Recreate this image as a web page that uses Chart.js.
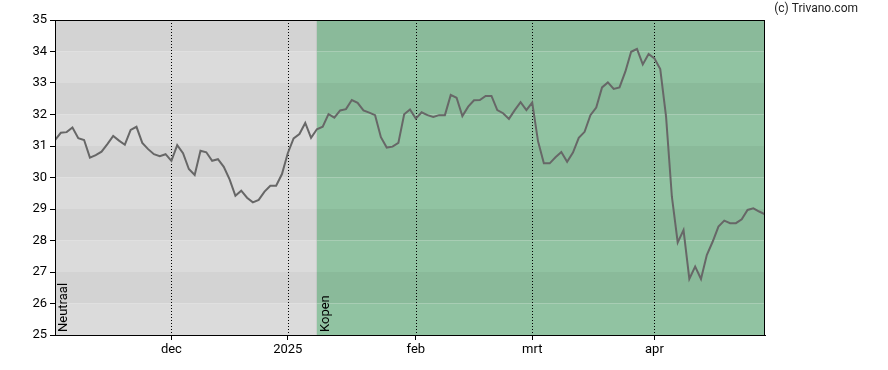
<!DOCTYPE html>
<html>
<head>
<meta charset="utf-8">
<script src="https://cdn.jsdelivr.net/npm/chart.js@4/dist/chart.umd.min.js"></script>
<style>
  html, body { margin: 0; padding: 0; background: #fff; }
  #wrap { width: 888px; height: 370px; }
</style>
</head>
<body>
<div id="wrap"><canvas id="grafiekKoers"></canvas></div>
<script>
// ---- data (one value per trading day, Nov 2024 - Apr 2025)
const koersen = [
  31.19, 31.42, 31.44, 31.59, 31.25, 31.19, 30.63, 30.71, 30.82, 31.06,
  31.32, 31.17, 31.04, 31.51, 31.61, 31.10, 30.90, 30.74, 30.68, 30.74,
  30.53, 31.03, 30.77, 30.27, 30.08, 30.85, 30.80, 30.53, 30.58, 30.34,
  29.94, 29.42, 29.58, 29.36, 29.21, 29.29, 29.55, 29.74, 29.74, 30.11,
  30.77, 31.24, 31.38, 31.73, 31.26, 31.53, 31.61, 32.01, 31.90, 32.13,
  32.17, 32.46, 32.37, 32.13, 32.06, 31.98, 31.28, 30.95, 30.98, 31.10,
  32.01, 32.16, 31.87, 32.07, 31.98, 31.92, 31.98, 31.98, 32.62, 32.53,
  31.95, 32.25, 32.45, 32.46, 32.59, 32.59, 32.14, 32.04, 31.86, 32.14,
  32.39, 32.14, 32.38, 31.15, 30.45, 30.45, 30.64, 30.81, 30.50, 30.79,
  31.26, 31.45, 31.98, 32.22, 32.86, 33.02, 32.81, 32.86, 33.36, 33.99,
  34.08, 33.59, 33.92, 33.78, 33.44, 31.93, 29.39, 27.94, 28.33, 26.78,
  27.17, 26.78, 27.54, 27.96, 28.44, 28.63, 28.55, 28.55, 28.67, 28.97,
  29.02, 28.92, 28.83
];

// month ticks (index of first trading day of the month)
const maandLabels = ['dec', '2025', 'feb', 'mrt', 'apr'];
const maandIndex = [20, 40, 62, 82, 103];

// signal zones
const signaalLabels = ['Neutraal', 'Kopen'];
const signaalStart = [0, 45];
const signaalEinde = [45, 122];

const yMin = 25;
const yMax = 35;

// ---- background bands, dotted month lines and zone labels
const achtergrondPlugin = {
    id: 'achtergrond',
    beforeDraw(chart) {
        const { ctx, chartArea, scales } = chart;
        const x = scales.x, y = scales.y;
        const kleuren = [
            ['#d3d3d3', '#dbdbdb'],   // neutraal
            ['#8aba9a', '#91c3a2']    // kopen
        ];
        ctx.save();
        for (let s = 0; s < signaalStart.length; s++) {
            const x0 = x.getPixelForValue(signaalStart[s]);
            const x1 = x.getPixelForValue(signaalEinde[s]);
            for (let v = yMin; v < yMax; v++) {
                const top = y.getPixelForValue(v + 1);
                const bot = y.getPixelForValue(v);
                // top band (34-35) is the darker one
                ctx.fillStyle = kleuren[s][(yMax - 1 - v) % 2 === 0 ? 0 : 1];
                ctx.fillRect(x0, top, x1 - x0, bot - top);
            }
        }
        // thin edge at start of kopen zone
        ctx.fillStyle = 'rgba(0,0,0,0.06)';
        ctx.fillRect(x.getPixelForValue(signaalStart[1]) - 1, chartArea.top, 1, chartArea.bottom - chartArea.top);

        // dotted month lines
        ctx.strokeStyle = '#000';
        ctx.lineWidth = 1;
        ctx.setLineDash([1, 2]);
        maandIndex.forEach(i => {
            const px = Math.round(x.getPixelForValue(i)) + 0.5;
            ctx.beginPath();
            ctx.moveTo(px, chartArea.top);
            ctx.lineTo(px, chartArea.bottom);
            ctx.stroke();
        });
        ctx.setLineDash([]);

        // zone labels, rotated
        ctx.fillStyle = '#000';
        ctx.font = '13px Roboto, sans-serif';
        ctx.textAlign = 'left';
        ctx.textBaseline = 'middle';
        for (let s = 0; s < signaalLabels.length; s++) {
            const px = x.getPixelForValue(signaalStart[s]) + 9;
            ctx.save();
            ctx.translate(px, chartArea.bottom - 3);
            ctx.rotate(-Math.PI / 2);
            ctx.fillText(signaalLabels[s], 0, 0);
            ctx.restore();
        }
        ctx.restore();
    },
    afterDraw(chart) {
        const { ctx, chartArea } = chart;
        ctx.save();
        // frame around the plot
        ctx.strokeStyle = '#000';
        ctx.lineWidth = 1;
        ctx.strokeRect(Math.round(chartArea.left) + 0.5, Math.round(chartArea.top) + 0.5,
            Math.round(chartArea.right - chartArea.left) - 1, Math.round(chartArea.bottom - chartArea.top));
        // copyright
        ctx.fillStyle = '#222';
        ctx.font = '12px Roboto, sans-serif';
        ctx.textAlign = 'right';
        ctx.textBaseline = 'middle';
        ctx.fillText('(c) Trivano.com', 858, 9);
        ctx.restore();
    }
};

const ctx = document.getElementById('grafiekKoers').getContext('2d');
let grafiekKoers = new Chart(ctx, {
    type: 'line',
    data: {
        datasets: [{
            label: 'Koers',
            data: koersen.map((v, i) => ({ x: i, y: v })),
            borderColor: '#676767',
            borderWidth: 2,
            pointRadius: 0,
            tension: 0
        }]
    },
    options: {
        responsive: true,
        maintainAspectRatio: false,
        animation: false,
        layout: { padding: { top: 20, right: 123, left: 0, bottom: 0 } },
        plugins: {
            legend: { display: false },
            tooltip: { enabled: false }
        },
        scales: {
            x: {
                type: 'linear',
                min: 0,
                max: koersen.length - 1,
                afterBuildTicks: scale => {
                    scale.ticks = maandIndex.map(v => ({ value: v }));
                },
                afterFit: scale => { scale.height = 35; },
                ticks: {
                    autoSkip: false,
                    maxRotation: 0,
                    color: '#000',
                    padding: 2,
                    font: { family: 'Roboto, sans-serif', size: 13 },
                    callback: value => {
                        const k = maandIndex.indexOf(value);
                        return k >= 0 ? maandLabels[k] : '';
                    }
                },
                grid: {
                    drawOnChartArea: false,
                    drawTicks: true,
                    tickLength: 5,
                    tickColor: '#000'
                },
                border: { display: true, color: '#000', width: 1 }
            },
            y: {
                min: yMin,
                max: yMax,
                afterFit: scale => { scale.width = 55; },
                ticks: {
                    stepSize: 1,
                    color: '#000',
                    padding: 3,
                    font: { family: 'Roboto, sans-serif', size: 13 }
                },
                grid: {
                    drawOnChartArea: false,
                    drawTicks: true,
                    tickLength: 5,
                    tickColor: '#000'
                },
                border: { display: true, color: '#000', width: 1 }
            }
        }
    },
    plugins: [achtergrondPlugin]
});
</script>
</body>
</html>
